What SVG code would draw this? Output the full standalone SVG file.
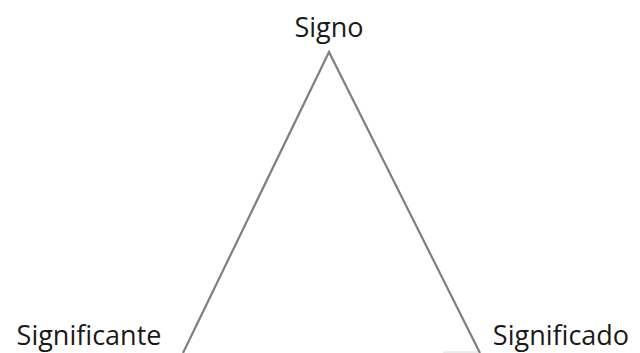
<svg xmlns="http://www.w3.org/2000/svg" width="640" height="353" viewBox="0 0 640 353">
<style>
text{font-family:"Open Sans","Noto Sans",sans-serif;font-size:27px;fill:#1a1a1a;text-anchor:middle}
.l{stroke:#7f7f7f;stroke-width:2.2;fill:none}
</style>
<rect width="640" height="353" fill="#fff"/>
<g id="connectors">
<path class="l" d="M183,353 L329,52 L480,353"/>
<path d="M443,352 L478,352" stroke="#d8d8d8" stroke-width="1"/>
</g>
<g id="signo"><text x="329" y="37">Signo</text></g>
<g id="significante"><text x="89" y="345">Significante</text></g>
<g id="significado"><text x="561" y="345">Significado</text></g>
</svg>
